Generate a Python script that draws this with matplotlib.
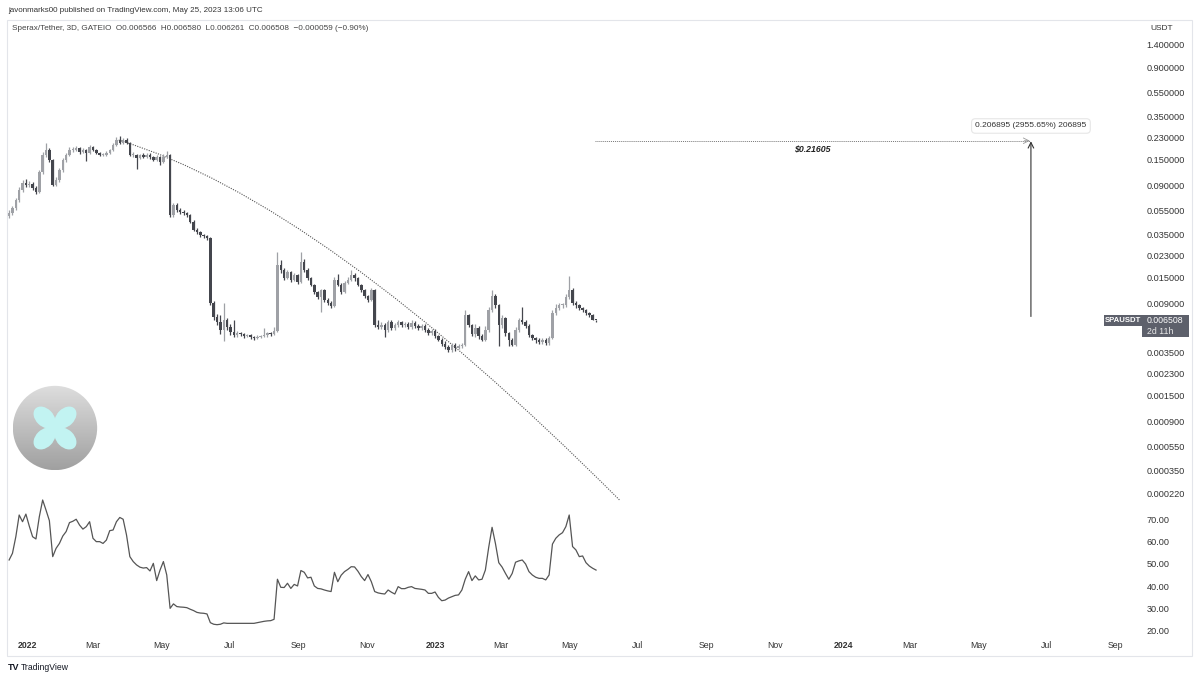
import matplotlib
matplotlib.use("Agg")
import matplotlib.pyplot as plt
import matplotlib.dates as mdates
import matplotlib.transforms as mtransforms
from matplotlib.patches import Rectangle, Circle, Ellipse, PathPatch
from matplotlib.path import Path
from matplotlib.colors import LinearSegmentedColormap
import numpy as np

plt.rcParams['font.family'] = ['Liberation Sans', 'DejaVu Sans']

# ---- data ----
first_candle = '2021-12-16'   # 3D candles
first_open = 0.050
closes = [
    0.053, 0.058, 0.068, 0.083, 0.095, 0.091, 0.093, 0.086, 0.080, 0.117,
    0.164, 0.180, 0.148, 0.091, 0.100, 0.122, 0.148, 0.164, 0.180, 0.180,
    0.187, 0.173, 0.180, 0.171, 0.191, 0.180, 0.171, 0.164, 0.164, 0.171,
    0.180, 0.199, 0.219, 0.207, 0.219, 0.207, 0.164, 0.164, 0.155, 0.164,
    0.158, 0.164, 0.158, 0.148, 0.158, 0.142, 0.158, 0.164, 0.0507, 0.0617,
    0.056, 0.0538, 0.0527, 0.0507, 0.0443, 0.0379, 0.0365, 0.0344, 0.0337, 0.0324,
    0.0091, 0.00694, 0.00629, 0.00538, 0.00654, 0.0057, 0.00518, 0.00488, 0.00507, 0.00498,
    0.00479, 0.00488, 0.0047, 0.00461, 0.0047, 0.00479, 0.00488, 0.00507, 0.00498, 0.00528,
    0.0191, 0.0174, 0.0148, 0.0167, 0.0143, 0.0157, 0.0137, 0.0203, 0.0174, 0.0148,
    0.0130, 0.0112, 0.0102, 0.0117, 0.00966, 0.0091, 0.0086, 0.0143, 0.0130, 0.0112,
    0.0135, 0.0143, 0.0157, 0.0148, 0.0130, 0.0117, 0.0104, 0.00966, 0.0117, 0.00593,
    0.0057, 0.00593, 0.00538, 0.00629, 0.00559, 0.00593, 0.00629, 0.00593, 0.00605, 0.0057,
    0.00617, 0.00582, 0.00559, 0.00582, 0.00538, 0.00507, 0.00528, 0.00479, 0.00443, 0.0041,
    0.00387, 0.00364, 0.00402, 0.00379, 0.00394, 0.00402, 0.00721, 0.00593, 0.00498, 0.00559,
    0.00479, 0.00443, 0.00538, 0.00795, 0.0104, 0.00877, 0.00593, 0.0068, 0.00507, 0.00443,
    0.00402, 0.00538, 0.00654, 0.00629, 0.00582, 0.00488, 0.00461, 0.00443, 0.00426, 0.00443,
    0.00418, 0.00461, 0.0075, 0.00826, 0.00877, 0.00877, 0.0102, 0.0117, 0.0091, 0.00877,
    0.00826, 0.00795, 0.0075, 0.00721, 0.006566, 0.006508,
]
highs = [
    0.056, 0.061, 0.071, 0.088, 0.101, 0.103, 0.098, 0.096, 0.089, 0.122,
    0.172, 0.207, 0.186, 0.152, 0.106, 0.126, 0.153, 0.171, 0.190, 0.190,
    0.196, 0.192, 0.187, 0.185, 0.198, 0.195, 0.184, 0.175, 0.170, 0.176,
    0.185, 0.205, 0.232, 0.235, 0.228, 0.226, 0.210, 0.172, 0.168, 0.168,
    0.170, 0.169, 0.170, 0.161, 0.163, 0.162, 0.168, 0.176, 0.168, 0.064,
    0.064, 0.058, 0.056, 0.054, 0.052, 0.046, 0.039, 0.037, 0.035, 0.0345,
    0.033, 0.0095, 0.0073, 0.0072, 0.0091, 0.0068, 0.0060, 0.0065, 0.0053, 0.0052,
    0.0051, 0.0050, 0.0050, 0.0048, 0.0049, 0.0049, 0.0056, 0.0052, 0.0052, 0.0057,
    0.0245, 0.0210, 0.0180, 0.0175, 0.0170, 0.0165, 0.0160, 0.0245, 0.0215, 0.0180,
    0.0152, 0.0133, 0.0116, 0.0120, 0.0120, 0.0100, 0.0094, 0.0150, 0.0162, 0.0134,
    0.0140, 0.0150, 0.0174, 0.0165, 0.0152, 0.0133, 0.0120, 0.0107, 0.0122, 0.0120,
    0.0066, 0.0063, 0.0062, 0.0066, 0.0065, 0.0062, 0.0066, 0.0064, 0.0063, 0.0063,
    0.0066, 0.0064, 0.0061, 0.0061, 0.0060, 0.0056, 0.0055, 0.0055, 0.0049, 0.0046,
    0.0043, 0.0040, 0.0042, 0.0042, 0.0041, 0.0042, 0.0079, 0.0074, 0.0061, 0.0060,
    0.0058, 0.0050, 0.0058, 0.0084, 0.0117, 0.0108, 0.0090, 0.0072, 0.0070, 0.0052,
    0.0046, 0.0057, 0.0068, 0.0084, 0.0066, 0.0060, 0.0050, 0.0047, 0.0046, 0.0046,
    0.0046, 0.0048, 0.0079, 0.0090, 0.0092, 0.0092, 0.0108, 0.0153, 0.0122, 0.0095,
    0.0090, 0.0085, 0.0081, 0.0077, 0.0074, 0.00658,
]
lows = [
    0.048, 0.051, 0.056, 0.066, 0.080, 0.087, 0.088, 0.083, 0.077, 0.078,
    0.113, 0.158, 0.143, 0.089, 0.089, 0.097, 0.118, 0.144, 0.160, 0.172,
    0.176, 0.168, 0.169, 0.145, 0.168, 0.176, 0.167, 0.160, 0.160, 0.161,
    0.168, 0.177, 0.195, 0.202, 0.203, 0.203, 0.160, 0.158, 0.125, 0.152,
    0.154, 0.155, 0.152, 0.145, 0.146, 0.135, 0.140, 0.155, 0.049, 0.049,
    0.054, 0.052, 0.051, 0.049, 0.043, 0.037, 0.035, 0.033, 0.0325, 0.031,
    0.0087, 0.0066, 0.0059, 0.0050, 0.0043, 0.0054, 0.0049, 0.0047, 0.0047, 0.0048,
    0.0046, 0.0047, 0.0045, 0.0044, 0.0045, 0.0046, 0.0047, 0.0047, 0.0048, 0.0049,
    0.0052, 0.0165, 0.0142, 0.0145, 0.0138, 0.0140, 0.0133, 0.0135, 0.0168, 0.0144,
    0.0126, 0.0108, 0.0098, 0.0077, 0.0093, 0.0088, 0.0083, 0.0084, 0.0126, 0.0108,
    0.0110, 0.0131, 0.0139, 0.0140, 0.0126, 0.0113, 0.0100, 0.0093, 0.0094, 0.0057,
    0.0055, 0.0055, 0.0047, 0.0052, 0.0054, 0.0054, 0.0057, 0.0057, 0.0057, 0.0055,
    0.0055, 0.0056, 0.0054, 0.0054, 0.0052, 0.0049, 0.0049, 0.0046, 0.0043, 0.0039,
    0.0037, 0.0035, 0.0035, 0.0036, 0.0037, 0.0038, 0.0039, 0.0057, 0.0048, 0.0047,
    0.0045, 0.0043, 0.0043, 0.0052, 0.0077, 0.0083, 0.0039, 0.0056, 0.0048, 0.0039,
    0.0039, 0.0039, 0.0052, 0.0060, 0.0056, 0.0047, 0.0044, 0.0042, 0.0041, 0.0041,
    0.0040, 0.0040, 0.0045, 0.0072, 0.0079, 0.0083, 0.0085, 0.0098, 0.0088, 0.0083,
    0.0079, 0.0076, 0.0072, 0.0069, 0.0065, 0.006261,
]
rsi = [
    51.7, 54.7, 62.1, 71.8, 68.8, 72.2, 66.9, 62.1, 61.1, 71.0,
    78.5, 74.0, 69.3, 53.2, 56.9, 59.1, 62.4, 64.4, 68.4, 69.0,
    69.9, 67.3, 65.5, 66.6, 68.8, 61.4, 59.9, 59.9, 59.1, 60.6,
    64.8, 65.1, 68.8, 70.7, 69.9, 62.9, 53.2, 51.0, 49.5, 48.5,
    48.1, 48.3, 46.8, 50.2, 42.5, 47.2, 51.0, 45.0, 30.1, 32.1,
    30.9, 30.7, 30.6, 30.4, 29.7, 29.1, 28.3, 28.0, 27.9, 27.6,
    23.7, 23.0, 22.8, 23.0, 23.6, 23.4, 23.4, 23.4, 23.4, 23.4,
    23.4, 23.4, 23.4, 23.4, 23.7, 24.0, 24.3, 24.5, 24.6, 25.2,
    43.1, 39.5, 39.4, 41.3, 39.0, 40.8, 40.1, 47.0, 46.2, 43.7,
    44.0, 40.1, 39.0, 38.8, 38.3, 37.9, 37.6, 46.2, 42.0, 44.9,
    46.5, 47.5, 48.7, 48.6, 46.7, 44.3, 42.5, 45.2, 42.0, 37.6,
    37.0, 36.7, 36.5, 38.3, 37.3, 36.5, 39.8, 38.9, 38.9, 39.5,
    39.8, 39.0, 38.8, 38.6, 38.3, 36.8, 36.8, 37.4, 35.0, 33.5,
    33.8, 34.7, 35.3, 35.9, 36.1, 38.3, 43.1, 46.5, 42.5, 44.6,
    42.8, 43.1, 47.2, 57.4, 66.3, 59.1, 50.5, 48.5, 45.7, 43.1,
    45.7, 50.7, 51.3, 51.7, 49.9, 46.5, 45.0, 44.0, 43.5, 43.5,
    42.8, 45.0, 58.8, 61.4, 62.9, 63.9, 66.6, 71.8, 57.7, 56.2,
    53.2, 53.5, 50.5, 49.0, 48.0, 47.2,
]

price_ticks = [1.4, 0.9, 0.55, 0.35, 0.23, 0.15, 0.09, 0.055, 0.035, 0.023, 0.015,
               0.009, 0.0035, 0.0023, 0.0015, 0.0009, 0.00055, 0.00035, 0.00022]
rsi_ticks = [70, 60, 50, 40, 30, 20]
time_ticks = ['2022-01-01', '2022-03-01', '2022-05-01', '2022-07-01', '2022-09-01', '2022-11-01',
              '2023-01-01', '2023-03-01', '2023-05-01', '2023-07-01', '2023-09-01', '2023-11-01',
              '2024-01-01', '2024-03-01', '2024-05-01', '2024-07-01', '2024-09-01']
time_labels = ['2022', 'Mar', 'May', 'Jul', 'Sep', 'Nov', '2023', 'Mar', 'May', 'Jul', 'Sep', 'Nov',
               '2024', 'Mar', 'May', 'Jul', 'Sep']

# curve drawing (quadratic curve tool): start, control, end
curve_dates = ['2022-03-24', '2022-09-21', '2023-06-15']
curve_prices = [0.219, 0.0666, 0.000195]
# target line and price range measure
target_price = 0.21605
target_dates = ['2023-05-24', '2024-06-16']
range_date = '2024-06-17'
range_low, range_high = 0.0070, 0.2139
range_label = '0.206895 (2955.65%) 206895'

# ---- figure ----
W, H = 1200, 680
fig = plt.figure(figsize=(W / 100, H / 100), dpi=100)
fig.patch.set_facecolor('white')


def box(l, t, r, b):
    return [l / W, 1 - b / H, (r - l) / W, (b - t) / H]


ax = fig.add_axes(box(8, 20, 1098, 500))
ax_rsi = fig.add_axes(box(8, 500, 1098, 637), sharex=ax)

n = len(closes)
dates = np.datetime64(first_candle) + np.arange(n) * 3
x = mdates.date2num(dates)
opens = [first_open] + closes[:-1]

up_col, dn_col = '#9fa1a6', '#44464d'
for xi, o, h, lo, c in zip(x, opens, highs, lows, closes):
    col = up_col if c >= o else dn_col
    ax.vlines(xi, lo, h, color=col, lw=0.9)
    ax.bar(xi, max(abs(c - o), c * 0.015), bottom=min(o, c), width=2.2, color=col, lw=0)

ax.set_yscale('log')
ax.set_ylim(1.95e-4, 2.28)
ax.set_xlim(mdates.date2num(np.datetime64('2021-12-15')), mdates.date2num(np.datetime64('2024-08-16')))
ax.yaxis.tick_right()
ax.set_yticks(price_ticks)
ax.set_yticklabels([f'{v:.6f}' for v in price_ticks])
ax.yaxis.set_minor_locator(matplotlib.ticker.NullLocator())
ax.tick_params(axis='y', length=0, pad=35, labelsize=6.6, labelcolor='#333333')
ax.tick_params(axis='x', length=0, labelbottom=False)
for sp in ax.spines.values():
    sp.set_visible(False)
ax.set_facecolor('none')

# curve
cx = mdates.date2num(np.array(curve_dates, dtype='datetime64[D]'))
path = Path(list(zip(cx, curve_prices)), [Path.MOVETO, Path.CURVE3, Path.CURVE3])
ax.add_patch(PathPatch(path, fill=False, edgecolor='#555555', lw=0.8, ls=(0, (1, 1.2)), clip_on=False))

# target line
tx = mdates.date2num(np.array(target_dates, dtype='datetime64[D]'))
ax.plot(tx, [target_price, target_price], color='#777777', lw=0.7, ls=(0, (1, 1)))
ax.annotate('', xy=(tx[1], target_price), xytext=(tx[1] - 5, target_price),
            arrowprops=dict(arrowstyle='->', color='#999999', lw=0.6, shrinkA=0, shrinkB=0))
ax.annotate(f'${target_price:.5f}', xy=(tx.mean(), target_price), xytext=(0, -6),
            textcoords='offset points', ha='center', va='center', fontsize=6.3,
            fontweight='bold', fontstyle='italic', color='#222222')

# price range arrow
rx = mdates.date2num(np.datetime64(range_date))
ax.annotate('', xy=(rx, range_high), xytext=(rx, range_low),
            arrowprops=dict(arrowstyle='->', color='#333333', lw=0.8, shrinkA=0, shrinkB=0))
ax.annotate(range_label, xy=(rx, range_high), xytext=(0, 11), textcoords='offset points',
            ha='center', va='center', fontsize=6.0, color='#333333',
            bbox=dict(boxstyle='round,pad=0.45', fc='white', ec='#e6e6e6', lw=0.8))

# RSI pane
ax_rsi.plot(x, rsi, color='#555555', lw=0.9, clip_on=False)
ax_rsi.set_ylim(17.3, 78.5)
ax_rsi.yaxis.tick_right()
ax_rsi.set_yticks(rsi_ticks)
ax_rsi.set_yticklabels([f'{v:.2f}' for v in rsi_ticks])
ax_rsi.tick_params(axis='y', length=0, pad=35, labelsize=6.6, labelcolor='#333333')
ax_rsi.tick_params(axis='x', length=0, labelbottom=False)
for sp in ax_rsi.spines.values():
    sp.set_visible(False)
ax_rsi.set_facecolor('none')

# time axis labels
tr = mtransforms.blended_transform_factory(ax_rsi.transData, fig.transFigure)
for d, lab in zip(time_ticks, time_labels):
    ax_rsi.text(mdates.date2num(np.datetime64(d)), 1 - 646 / H, lab, transform=tr,
                ha='center', va='center', fontsize=6.3, color='#333333',
                fontweight='bold' if lab.isdigit() else 'normal', clip_on=False)

# headers
fig.text(8 / W, 1 - 10 / H, 'javonmarks00 published on TradingView.com, May 25, 2023 13:06 UTC',
         fontsize=5.8, color='#333333', va='center')
fig.text(12 / W, 1 - 29 / H,
         'Sperax/Tether, 3D, GATEIO  O0.006566  H0.006580  L0.006261  C0.006508  \u22120.000059 (\u22120.90%)',
         fontsize=5.9, color='#444444', va='center')
fig.text(1150 / W, 1 - 29 / H, 'USDT', fontsize=6.0, color='#333333', va='center')
fig.add_artist(Rectangle((7 / W, 1 - 656 / H), 1185 / W, 636 / H, transform=fig.transFigure,
                         fill=False, edgecolor='#e3e5ea', lw=0.8))
fig.text(8 / W, 1 - 668 / H, 'TV', fontsize=6.5, fontweight='bold', color='#131722', va='center')
fig.text(21 / W, 1 - 668 / H, 'TradingView', fontsize=6.2, color='#131722', va='center')

# last price label on the price scale
fig.canvas.draw()
ypx = ax.transData.transform((x[-1], closes[-1]))[1]
ident = mtransforms.IdentityTransform()
lab_col = '#5d606b'
fig.add_artist(Rectangle((1104, ypx - 5.5), 38, 11, transform=ident, color=lab_col, lw=0))
fig.add_artist(Rectangle((1142, ypx - 16.5), 47, 22, transform=ident, color=lab_col, lw=0))
fig.text(1123 / W, ypx / H, 'SPAUSDT', fontsize=5.6, color='white', ha='center', va='center',
         fontweight='bold')
fig.text(1147 / W, ypx / H, f'{closes[-1]:.6f}', fontsize=6.3, color='white', va='center')
fig.text(1147 / W, (ypx - 11) / H, '2d 11h', fontsize=6.3, color='#e8e8e8', va='center')

# logo
lax = fig.add_axes(box(12, 385, 98, 471))
lax.set_xlim(-1.02, 1.02)
lax.set_ylim(-1.02, 1.02)
lax.axis('off')
grad = np.linspace(0, 1, 256).reshape(-1, 1)
cmap = LinearSegmentedColormap.from_list('g', ['#dedede', '#a0a0a0'])
im = lax.imshow(grad, extent=(-1, 1, -1, 1), cmap=cmap, origin='upper', aspect='auto')
im.set_clip_path(Circle((0, 0), 1, transform=lax.transData))
petal = '#c2f3f2'
for sx in (-1, 1):
    for sy in (-1, 1):
        lax.add_patch(Ellipse((0.25 * sx, 0.25 * sy), 0.6, 0.42, angle=45 * sx * sy, color=petal, lw=0))
lax.add_patch(Circle((0, 0), 0.15, color=petal, lw=0))

fig.savefig('out.png', dpi=100)
